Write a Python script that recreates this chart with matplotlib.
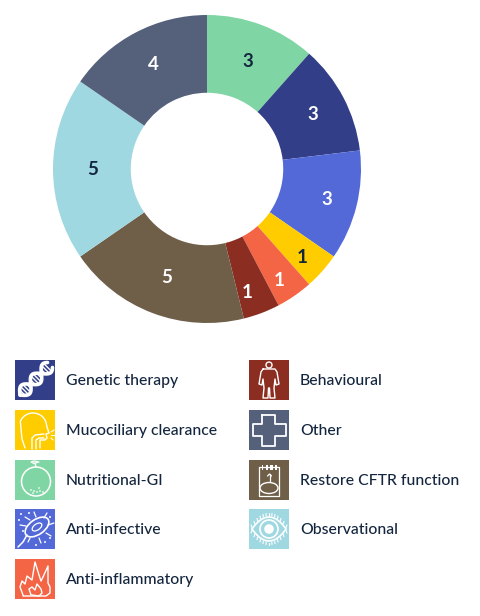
import matplotlib
matplotlib.use("Agg")
import matplotlib.pyplot as plt
from matplotlib.patches import Rectangle, Circle, Ellipse
import numpy as np

plt.rcParams['font.family'] = ['Lato', 'DejaVu Sans']

slice_labels = ["Nutritional-GI", "Genetic therapy", "Anti-infective", "Mucociliary clearance",
                "Anti-inflammatory", "Behavioural", "Restore CFTR function", "Observational", "Other"]
slice_values = [3, 3, 3, 1, 1, 1, 5, 5, 4]
slice_colors = ["#7FD6A4", "#323F88", "#5369D8", "#FFCC00", "#F46546", "#8C2D22", "#6F5F49", "#A0D8E2", "#55617B"]
value_colors = ["#14263F", "white", "white", "#14263F", "white", "white", "white", "#14263F", "white"]
label_radius = [0.75, 0.775, 0.80, 0.84, 0.86, 0.84, 0.745, 0.74, 0.765]
label_turn = [0, 0, 0, 1, 1.5, 2.5, 0, 0, 0.7]

legend_left = ["Genetic therapy", "Mucociliary clearance", "Nutritional-GI", "Anti-infective", "Anti-inflammatory"]
legend_right = ["Behavioural", "Other", "Restore CFTR function", "Observational"]
color_of = dict(zip(slice_labels, slice_colors))
TEXT = "#14263F"
W, H = 480, 616

fig = plt.figure(figsize=(W/100, H/100), dpi=100, facecolor="white")

# donut
R = 154
cx, cy = 207, 169
ax = fig.add_axes([(cx-R)/W, 1-(cy+R)/H, 2*R/W, 2*R/H])
wedges, _ = ax.pie(slice_values, colors=slice_colors, startangle=90, counterclock=False,
                   radius=1, wedgeprops=dict(width=0.505, linewidth=0))
ax.set_xlim(-1, 1); ax.set_ylim(-1, 1); ax.set_aspect("equal"); ax.axis("off")
for w, v, c, r, t in zip(wedges, slice_values, value_colors, label_radius, label_turn):
    a = np.deg2rad((w.theta1 + w.theta2) / 2 - t)
    ax.text(r*np.cos(a), r*np.sin(a) - 0.006, str(v), color=c, ha="center", va="center",
            fontsize=13.5, fontweight="bold")

# legend in pixel coordinates
lg = fig.add_axes([0, 0, 1, 1], facecolor="none")
lg.set_xlim(0, W); lg.set_ylim(H, 0); lg.axis("off")

def ln(x, y, xs, ys, lw=1.1):
    lg.plot(np.array(xs)+x, np.array(ys)+y, color="white", lw=lw, solid_capstyle="round",
            solid_joinstyle="round")

def circ(x, y, cxx, cyy, r, fill=False, lw=1.1):
    lg.add_patch(Circle((x+cxx, y+cyy), r, fc="white" if fill else "none", ec="white", lw=lw))

def dna(x, y):
    t = np.linspace(0, 1, 50)
    px = 5 + 30*t; py = 35 - 30*t
    off = 6*np.sin(t*2*np.pi*1.4)
    ln(x, y, px+off*0.7, py+off*0.7, 2.6)
    ln(x, y, px-off*0.7, py-off*0.7, 2.6)
    for tt in np.linspace(0.08, 0.92, 13):
        o = 6*np.sin(tt*2*np.pi*1.4)
        qx, qy = 5+30*tt, 35-30*tt
        ln(x, y, [qx+o*0.7, qx-o*0.7], [qy+o*0.7, qy-o*0.7], 1.0)

def head(x, y):
    a2 = np.deg2rad(np.linspace(-160, -15, 24))
    hx = 18 + 13.5*np.cos(a2); hy = 16 + 13*np.sin(a2)
    ln(x, y, np.r_[10, 7, hx, 32, 34, 31, 32, 30, 25, 25],
       np.r_[38, 29, hy, 17, 23, 24, 28, 30, 30, 38], 1.0)
    ln(x, y, [17, 17, 20, 29], [39, 28, 25, 24], 1.0)
    ln(x, y, [21, 21, 24, 29], [39, 30, 28, 28], 1.0)
    ln(x, y, [36, 39], [22, 20], .8); ln(x, y, [36, 39], [25, 25], .8); ln(x, y, [36, 38], [28, 30], .8)

def apple(x, y):
    circ(x, y, 21, 21.5, 14.5, lw=1.1)
    ln(x, y, [21, 20], [7, 3], 1.0)
    ln(x, y, [19, 16, 19, 24, 19], [3.5, 2, 1, 2, 3.5], 0.9)
    for a, b in [(16, 30), (19, 31), (22, 32), (25, 31), (28, 32), (18, 33), (24, 28)]:
        circ(x, y, a, b, 0.5, fill=True, lw=.4)

def germ(x, y):
    lg.add_patch(Ellipse((x+22, y+18), 27, 15, angle=-35, fc="none", ec="white", lw=1.2))
    lg.add_patch(Ellipse((x+22, y+18), 11, 6, angle=-35, fc="none", ec="white", lw=.9))
    ln(x, y, [12, 8, 3], [26, 33, 38], 1.1)
    for a, b, c, d in [(21, 8, 19, 3), (29, 9, 32, 4), (33, 16, 39, 14), (31, 24, 36, 27),
                       (24, 29, 26, 34), (15, 29, 13, 33), (11, 17, 5, 16), (15, 11, 10, 8)]:
        ln(x, y, [a, c], [b, d], .9)
    for a, b in [(6, 5), (4, 11), (14, 4), (35, 29), (35, 8), (21, 36), (8, 22), (30, 33)]:
        circ(x, y, a, b, .7, fill=True, lw=.4)

def flame(x, y):
    ln(x, y, [8, 5, 7, 10, 12, 17, 20, 24, 26, 28, 33, 33, 35, 35, 31, 8],
       [36, 28, 22, 25, 17, 21, 3, 16, 22, 18, 7, 24, 28, 34, 37, 37], 1.0)
    ln(x, y, [16, 14, 17, 20, 22, 26, 27, 24, 17], [36, 30, 28, 31, 25, 30, 34, 37, 36], 1.0)

def person(x, y):
    circ(x, y, 20, 5, 3, lw=1.0)
    ln(x, y, [14, 26, 28, 30, 27, 26, 25, 26, 21, 20.5, 19.5, 19, 14, 15, 14, 13, 10, 12, 14],
       [9, 9, 12, 24, 25, 19, 28, 38, 38, 28, 28, 38, 38, 28, 19, 25, 24, 12, 9], 1.0)

def cross(x, y):
    ln(x, y, [13, 26, 26, 37, 37, 26, 26, 13, 13, 4, 4, 13, 13],
       [5, 5, 14, 14, 26, 26, 36, 36, 26, 26, 14, 14, 5], 1.3)

def cftr(x, y):
    ln(x, y, [10, 10, 30, 30, 10], [7, 36, 36, 7, 7], .9)
    lg.add_patch(Rectangle((x+17, y+5), 2, 5, fc="white", ec="none"))
    lg.add_patch(Rectangle((x+21, y+5), 3, 5, fc="white", ec="none"))
    lg.add_patch(Rectangle((x+26, y+5), 1.5, 5, fc="white", ec="none"))
    lg.add_patch(Rectangle((x+12.5, y+5), 1.5, 5, fc="white", ec="none"))
    ln(x, y, [20.5, 20.5], [21, 14], .9); ln(x, y, [18.5, 20.5, 22.5], [16, 14, 16], .9)
    lg.add_patch(Ellipse((x+20, y+28), 18, 11, fc="none", ec="white", lw=1.0))

def eye(x, y):
    t = np.linspace(-1, 1, 30)
    ln(x, y, 20+17*t, 20-12*(1-t**2), 1.2)
    ln(x, y, 20+17*t, 20+12*(1-t**2), 1.2)
    circ(x, y, 20, 20, 9, lw=1.2)
    circ(x, y, 20, 20, 4, fill=True)
    for a in np.linspace(-1, 1, 13):
        yy = 12*(1-a**2)
        ln(x, y, [20+17*a, 20+18*a], [20-yy-1.5, 20-yy-4], .8)
        ln(x, y, [20+17*a, 20+18*a], [20+yy+1.5, 20+yy+4], .8)

icons = {"Genetic therapy": dna, "Mucociliary clearance": head, "Nutritional-GI": apple,
         "Anti-infective": germ, "Anti-inflammatory": flame, "Behavioural": person,
         "Other": cross, "Restore CFTR function": cftr, "Observational": eye}

rows = [360, 410, 460, 509, 559]
for col_x, names in ((15, legend_left), (249, legend_right)):
    for top, name in zip(rows, names):
        lg.add_patch(Rectangle((col_x, top), 40, 40, fc=color_of[name], ec="none"))
        icons[name](col_x, top)
        lg.text(col_x+51, top+21, name, color=TEXT, fontsize=11.3, va="center", ha="left", fontweight="medium")
lg.set_xlim(0, W); lg.set_ylim(H, 0)

fig.savefig("out.png", dpi=100, facecolor="white")
